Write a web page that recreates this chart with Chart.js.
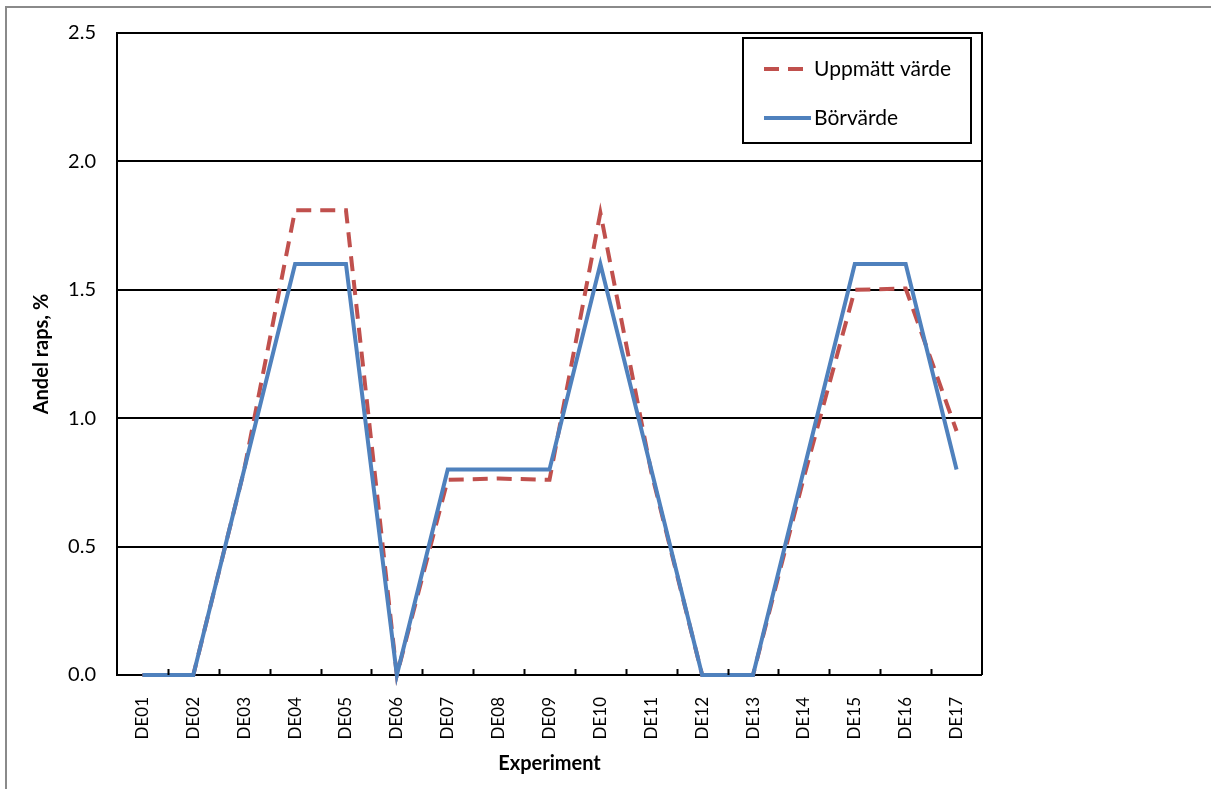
<!DOCTYPE html>
<html>
<head>
<meta charset="utf-8">
<script src="https://cdn.jsdelivr.net/npm/chart.js@4.4.0/dist/chart.umd.min.js"></script>
<style>
  html, body { margin: 0; padding: 0; background: #ffffff; overflow: hidden; }
  #wrap { position: relative; width: 1211px; height: 789px; }
</style>
</head>
<body>
<div id="wrap"><canvas id="c" width="1211" height="789"></canvas></div>
<script>
const categories = ['DE01','DE02','DE03','DE04','DE05','DE06','DE07','DE08','DE09','DE10','DE11','DE12','DE13','DE14','DE15','DE16','DE17'];
const uppmattVarde = [0, 0, 0.80, 1.81, 1.81, 0, 0.76, 0.765, 0.76, 1.80, 0.79, 0, 0, 0.77, 1.50, 1.505, 0.95];
const borvarde = [0, 0, 0.80, 1.60, 1.60, 0, 0.80, 0.80, 0.80, 1.60, 0.80, 0, 0, 0.80, 1.60, 1.60, 0.80];
const seriesNames = ['Uppmätt värde', 'Börvärde'];
const yTickValues = [0, 0.5, 1.0, 1.5, 2.0, 2.5];

const FONT = 'Lato, "Open Sans", sans-serif';

const framePlugin = {
  id: 'frame',
  beforeDraw(chart) {
    const ctx = chart.ctx;
    ctx.save();
    ctx.fillStyle = '#ffffff';
    ctx.fillRect(0, 0, chart.width, chart.height);
    ctx.strokeStyle = '#8a8a8a';
    ctx.lineWidth = 2;
    ctx.strokeRect(6, 7, 1400, 1000);
    ctx.restore();
  },
  afterDatasetsDraw(chart) {
    const ctx = chart.ctx;
    const a = chart.chartArea;
    const xs = chart.scales.x;
    ctx.save();
    ctx.strokeStyle = '#000';
    ctx.lineWidth = 2;
    ctx.beginPath();
    ctx.moveTo(a.left, a.top);
    ctx.lineTo(a.right, a.top);
    ctx.lineTo(a.right, a.bottom);
    ctx.stroke();
    ctx.beginPath();
    const n = categories.length;
    for (let i = 0; i < n - 1; i++) {
      const x = (xs.getPixelForTick(i) + xs.getPixelForTick(i + 1)) / 2;
      ctx.moveTo(Math.round(x) + 0.5, a.bottom);
      ctx.lineTo(Math.round(x) + 0.5, a.bottom - 6);
    }
    ctx.stroke();
    const lx = 743, ly = 38, lw = 228, lh = 105;
    ctx.fillStyle = '#fff';
    ctx.fillRect(lx, ly, lw, lh);
    ctx.strokeStyle = '#000';
    ctx.lineWidth = 2;
    ctx.strokeRect(lx, ly, lw, lh);
    const rows = [69, 118];
    chart.data.datasets.forEach((ds, i) => {
      const y = rows[i];
      ctx.save();
      ctx.strokeStyle = ds.borderColor;
      ctx.lineWidth = ds.borderWidth;
      ctx.setLineDash(ds.borderDash || []);
      ctx.lineCap = 'butt';
      ctx.beginPath();
      ctx.moveTo(764, y);
      ctx.lineTo(811, y);
      ctx.stroke();
      ctx.restore();
      ctx.fillStyle = '#000';
      ctx.font = '21px ' + FONT;
      ctx.textBaseline = 'middle';
      ctx.textAlign = 'left';
      ctx.fillText(ds.label, 814, y);
    });
    ctx.restore();
  }
};

new Chart(document.getElementById('c'), {
  type: 'line',
  data: {
    labels: categories,
    datasets: [
      {
        label: seriesNames[0],
        data: uppmattVarde,
        borderColor: '#C0504D',
        borderWidth: 4,
        borderDash: [15, 9],
        pointRadius: 0,
        tension: 0,
        order: 1,
        clip: false
      },
      {
        label: seriesNames[1],
        data: borvarde,
        borderColor: '#4F81BD',
        borderWidth: 4,
        pointRadius: 0,
        tension: 0,
        order: 0,
        clip: false
      }
    ]
  },
  options: {
    responsive: false,
    animation: false,
    events: [],
    layout: { padding: { left: 0, top: 29, right: 229, bottom: 0 } },
    plugins: { legend: { display: false }, tooltip: { enabled: false } },
    scales: {
      x: {
        type: 'category',
        offset: true,
        grid: { display: false, offset: true },
        border: { display: false },
        ticks: {
          autoSkip: false,
          minRotation: 90,
          maxRotation: 90,
          padding: 14,
          color: '#000',
          font: { family: FONT, size: 17 }
        },
        title: {
          display: true,
          text: 'Experiment',
          color: '#000',
          font: { family: FONT, size: 20, weight: 'bold' },
          padding: { top: 0, bottom: 13 }
        },
        afterFit(scale) { scale.height = 114; }
      },
      y: {
        min: 0,
        max: 2.5,
        afterBuildTicks(scale) { scale.ticks = yTickValues.map(v => ({ value: v })); },
        grid: { color: '#000', lineWidth: 2, drawTicks: false },
        border: { display: true, color: '#000', width: 2 },
        ticks: {
          padding: 21,
          color: '#000',
          font: { family: FONT, size: 20 },
          callback: (v) => Number(v).toFixed(1)
        },
        title: {
          display: true,
          text: 'Andel raps, %',
          color: '#000',
          font: { family: FONT, size: 20, weight: 'bold' },
          padding: { top: 30, bottom: 0 }
        },
        afterFit(scale) { scale.width = 117; }
      }
    }
  },
  plugins: [framePlugin]
});
</script>
</body>
</html>
